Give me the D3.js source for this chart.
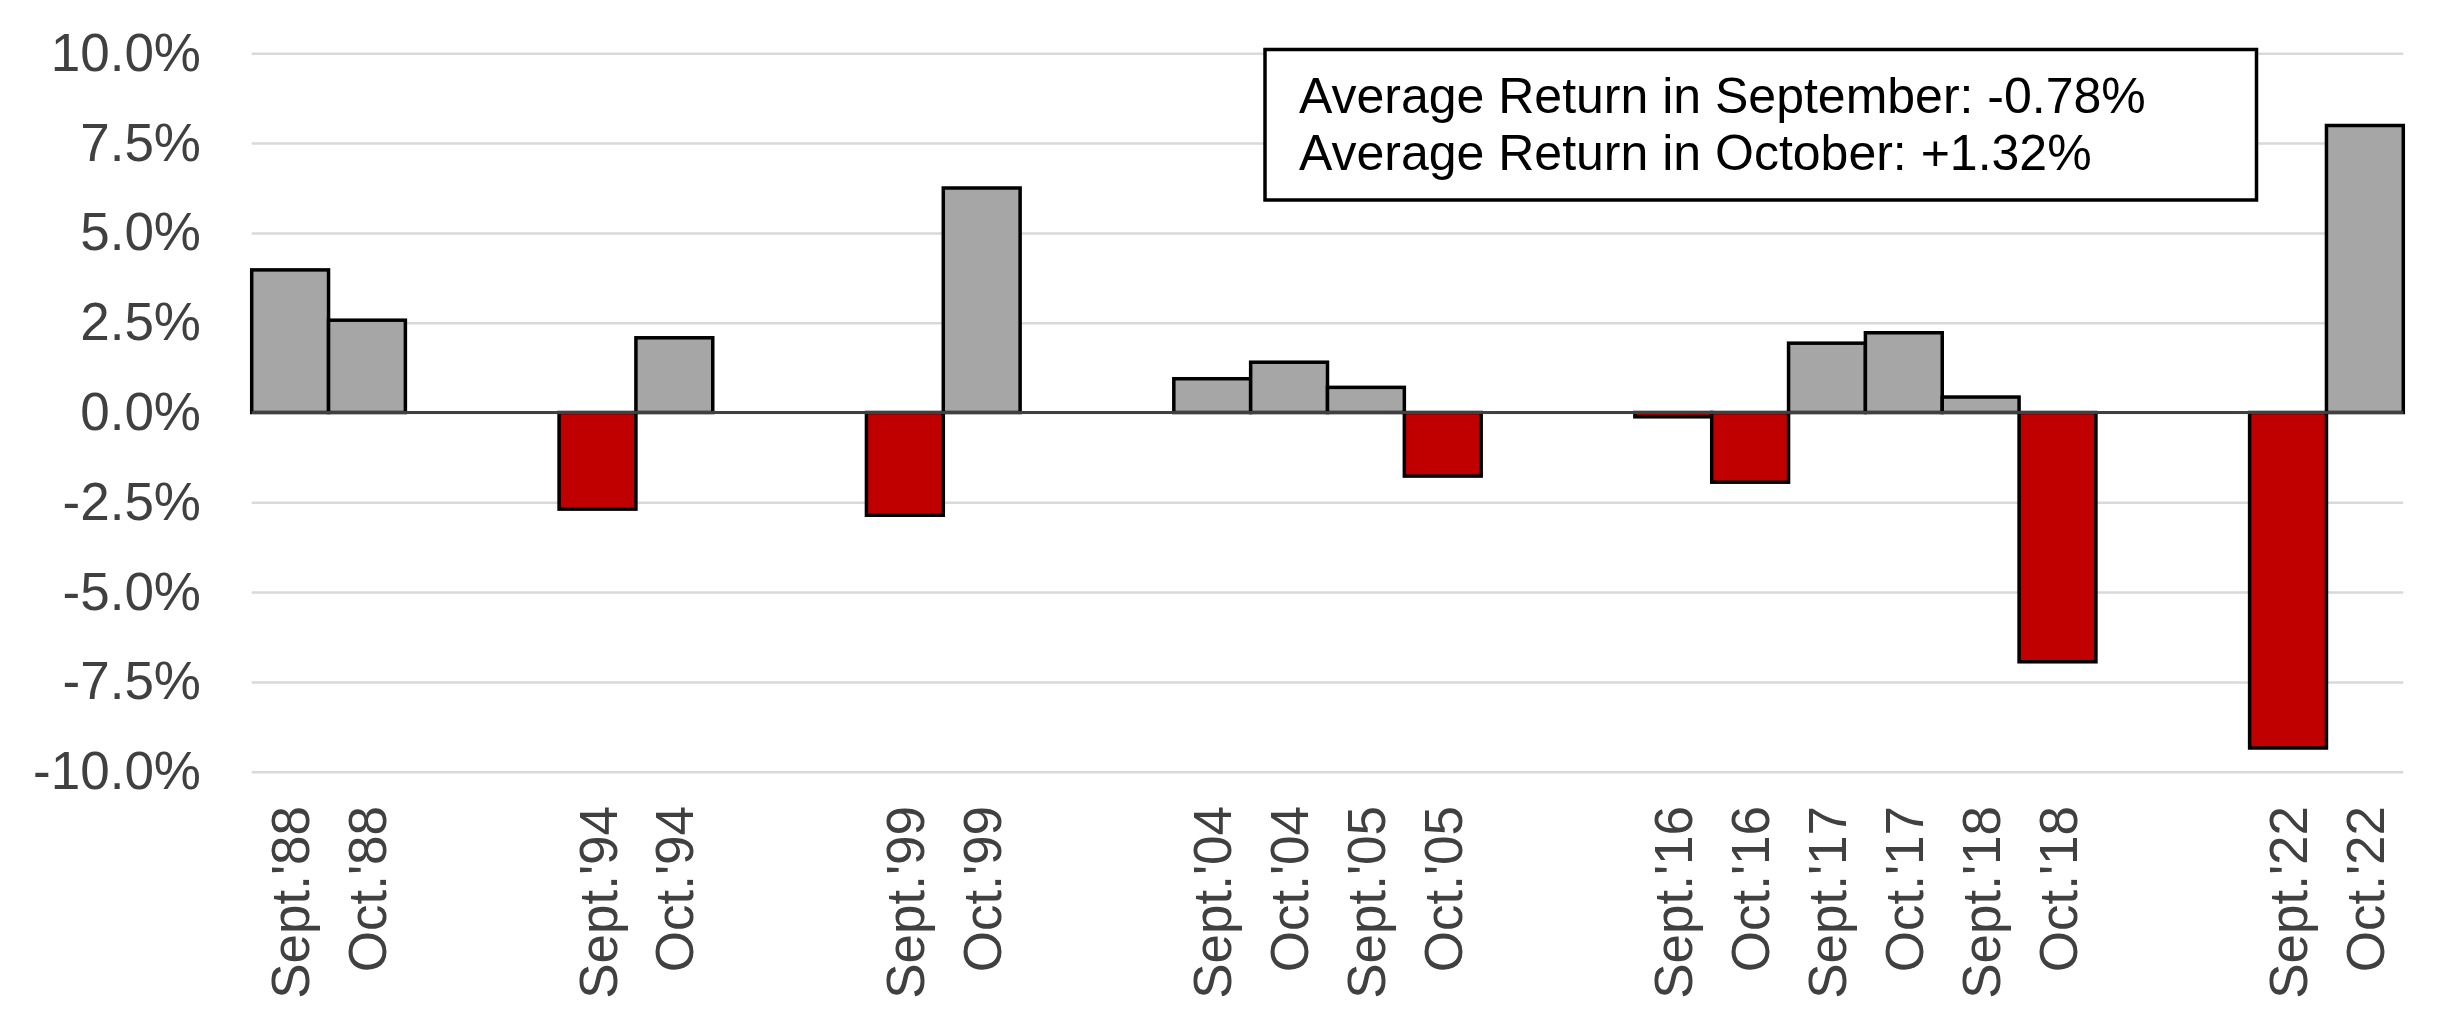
<!DOCTYPE html>
<html lang="en">
<head>
<meta charset="UTF-8">
<title>September and October Returns</title>
<script src="https://cdn.jsdelivr.net/npm/d3@7"></script>
<style>
body{margin:0;background:#fff;}
svg{display:block;font-family:"Liberation Sans",Arial,sans-serif;}
.grid line{stroke:#d9d9d9;stroke-width:2.5;}
.axis text{fill:#404040;font-size:53px;}
.bar{stroke:#000;stroke-width:3.5;}
</style>
</head>
<body>
<script>
// slots with empty labels are the gaps between year groups
var labels=["Sept.'88","Oct.'88","","","Sept.'94","Oct.'94","","","Sept.'99","Oct.'99","","",
  "Sept.'04","Oct.'04","Sept.'05","Oct.'05","","","Sept.'16","Oct.'16","Sept.'17","Oct.'17",
  "Sept.'18","Oct.'18","","","Sept.'22","Oct.'22"];
var returns=[3.97,2.57,null,null,-2.69,2.08,null,null,-2.86,6.25,null,null,
  0.94,1.40,0.70,-1.77,null,null,-0.12,-1.94,1.93,2.22,
  0.43,-6.94,null,null,-9.34,7.99];
var yTicks=[-10,-7.5,-5,-2.5,0,2.5,5,7.5,10];
var notes=["Average Return in September: -0.78%","Average Return in October: +1.32%"];

var W=2454,H=1035;
var svg=d3.select("body").append("svg").attr("width",W).attr("height",H);

var x=d3.scaleBand().domain(d3.range(labels.length)).range([251.7,2403.3]).padding(0);
var y=d3.scaleLinear().domain([-10,10]).range([771.7,53.3]);

// gridlines
svg.append("g").attr("class","grid")
  .attr("transform","translate(251.7,0)")
  .call(d3.axisLeft(y).tickValues(yTicks).tickSize(-(2403.3-251.7)).tickFormat(""))
  .call(function(g){g.select(".domain").remove();});

// y labels (plain hyphen, not the unicode minus d3 uses)
var pct=d3.formatLocale({decimal:".",thousands:",",grouping:[3],currency:["$",""],minus:"-"}).format(".1f");
svg.append("g").attr("class","axis")
  .attr("transform","translate(201,0)")
  .call(d3.axisLeft(y).tickValues(yTicks).tickSize(0).tickPadding(0)
    .tickFormat(function(d){return pct(d)+"%";}))
  .call(function(g){g.select(".domain").remove();});

var data=returns.map(function(v,i){return {i:i,v:v};}).filter(function(d){return d.v!==null;});

svg.append("g").selectAll("rect").data(data).enter().append("rect")
  .attr("class","bar")
  .attr("x",function(d){return x(d.i);})
  .attr("width",x.bandwidth())
  .attr("y",function(d){return y(Math.max(0,d.v));})
  .attr("height",function(d){return Math.abs(y(d.v)-y(0));})
  .attr("fill",function(d){return d.v<0?"#c00000":"#a6a6a6";});

// zero line on top of bars
svg.append("line")
  .attr("x1",251.7).attr("x2",2403.3)
  .attr("y1",y(0)).attr("y2",y(0))
  .attr("stroke","#404040").attr("stroke-width",3);

// x labels, rotated
var xa=svg.append("g").attr("class","axis")
  .attr("transform","translate(0,806)")
  .call(d3.axisBottom(x).tickSize(0).tickFormat(function(i){return labels[i];}));
xa.select(".domain").remove();
xa.selectAll("text")
  .attr("transform","rotate(-90)")
  .attr("text-anchor","end")
  .attr("x",0).attr("y",0)
  .attr("dy","0.36em");

// note box
svg.append("rect")
  .attr("x",1265).attr("y",49.5)
  .attr("width",2256.5-1265).attr("height",200-49.5)
  .attr("fill","#fff").attr("stroke","#000").attr("stroke-width",3.5);
svg.append("g").selectAll("text").data(notes).enter().append("text")
  .attr("x",1299).attr("y",function(d,i){return 112.7+i*57.3;})
  .attr("font-size","50px").attr("fill","#000")
  .text(function(d){return d;});
</script>
</body>
</html>
